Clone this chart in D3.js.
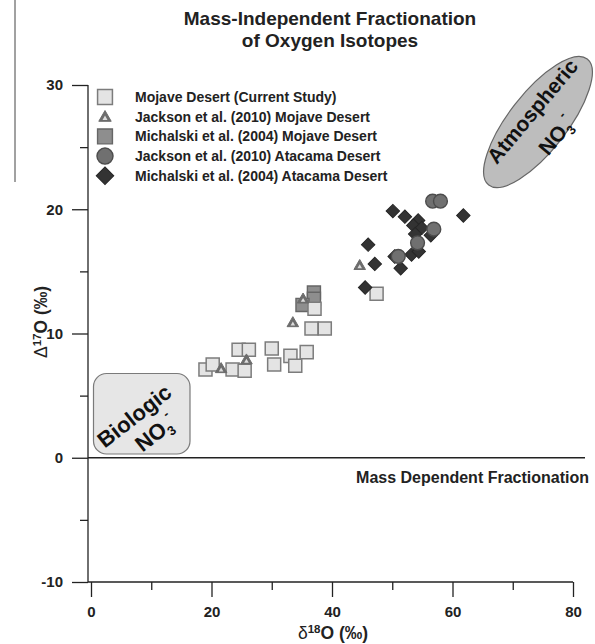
<!DOCTYPE html>
<html><head><meta charset="utf-8">
<script src="https://cdn.jsdelivr.net/npm/d3@7"></script>
<style>
html,body{margin:0;padding:0;background:#fff;}
text{font-family:Arial,"Liberation Sans",sans-serif;}
</style></head>
<body>
<svg id="c" width="595" height="644"></svg>
<script>
// ---- data ----
const seriesNames = [
  "Mojave Desert (Current Study)",
  "Jackson et al. (2010) Mojave Desert",
  "Michalski et al. (2004) Mojave Desert",
  "Jackson et al. (2010) Atacama Desert",
  "Michalski et al. (2004) Atacama Desert"
];
const mojaveCurrent = [
  [19.0,7.1],[20.2,7.5],[23.5,7.1],[25.5,7.0],[24.5,8.7],[26.2,8.7],
  [30.0,8.8],[30.4,7.5],[33.1,8.2],[33.9,7.4],[35.8,8.5],[36.6,10.4],
  [38.8,10.4],[37.1,12.0],[47.4,13.2]
];
const jacksonMojave = [[21.6,7.2],[25.8,7.9],[33.5,10.9],[35.2,12.8],[44.6,15.5]];
const michalskiMojave = [[37.0,13.3],[37.0,12.8],[35.1,12.3]];
const jacksonAtacama = [[56.7,20.65],[58.0,20.65],[56.9,18.4],[54.2,17.3],[51.0,16.2]];
const michalskiAtacama = [
  [46.0,17.15],[47.1,15.6],[45.5,13.7],[50.1,19.85],[52.1,19.4],[54.3,19.1],
  [53.5,18.7],[54.9,18.5],[53.8,18.0],[56.4,17.9],[53.2,16.35],[54.4,16.6],
  [61.8,19.5],[51.4,15.25],[50.4,16.2]
];
const xTicks = [0,20,40,60,80];
const xMinor = [10,30,50,70];
const yTicks = [-10,0,10,20,30];
const yMinor = [-5,5,15,25];

// ---- setup ----
const svg = d3.select("#c");
const x = d3.scaleLinear().domain([0,80]).range([91,573]);
const y = d3.scaleLinear().domain([-10,30]).range([582,85]);
const axX0 = 88;
const fmt = d => String(d);

// stray vertical line at top-left
svg.append("line").attr("x1",15).attr("x2",15).attr("y1",0).attr("y2",182)
  .attr("stroke","#444").attr("stroke-width",1);

// title
svg.append("text").attr("x",330).attr("y",25).attr("text-anchor","middle")
  .attr("font-size",19).attr("font-weight","bold").attr("fill","#222").text("Mass-Independent Fractionation");
svg.append("text").attr("x",330).attr("y",47).attr("text-anchor","middle")
  .attr("font-size",19).attr("font-weight","bold").attr("fill","#222").text("of Oxygen Isotopes");

// axes
const g = svg.append("g").attr("stroke","#222").attr("stroke-width",1.3);
g.append("line").attr("x1",axX0).attr("x2",axX0).attr("y1",y(30)).attr("y2",y(-10));
g.append("line").attr("x1",axX0).attr("x2",x(80)).attr("y1",y(-10)).attr("y2",y(-10));
const yAx = svg.append("g").attr("transform",`translate(${axX0},0)`)
  .call(d3.axisLeft(y).tickValues(yTicks).tickSize(16).tickPadding(9).tickFormat(fmt));
const yAxm = svg.append("g").attr("transform",`translate(${axX0},0)`)
  .call(d3.axisLeft(y).tickValues(yMinor).tickSize(8).tickFormat(""));
const xAx = svg.append("g").attr("transform",`translate(0,${y(-10)})`)
  .call(d3.axisBottom(x).tickValues(xTicks).tickSize(15).tickPadding(9).tickFormat(fmt));
const xAxm = svg.append("g").attr("transform",`translate(0,${y(-10)})`)
  .call(d3.axisBottom(x).tickValues(xMinor).tickSize(8).tickFormat(""));
[yAx,yAxm,xAx,xAxm].forEach(a=>{
  a.select(".domain").remove();
  a.selectAll("line").attr("stroke","#222").attr("stroke-width",1.3);
  a.selectAll("text").attr("font-size",15).attr("font-weight","bold").attr("fill","#222")
    .attr("font-family",'Arial,"Liberation Sans",sans-serif');
});

// axis titles
const xt = svg.append("text").attr("x",333).attr("y",639).attr("text-anchor","middle")
  .attr("font-size",17.5).attr("fill","#222");
xt.append("tspan").text("δ");
xt.append("tspan").attr("font-size",11.5).attr("font-weight","bold").attr("dy",-6).text("18");
xt.append("tspan").attr("font-weight","bold").attr("dy",6).text("O (‰)");
const yt = svg.append("text").attr("transform","translate(47,322) rotate(-90)").attr("text-anchor","middle")
  .attr("font-size",17.5).attr("fill","#222");
yt.append("tspan").text("Δ");
yt.append("tspan").attr("font-size",11.5).attr("font-weight","bold").attr("dy",-6).text("17");
yt.append("tspan").attr("font-weight","bold").attr("dy",6).text("O (‰)");

// zero line
svg.append("line").attr("x1",axX0).attr("x2",585).attr("y1",y(0)).attr("y2",y(0))
  .attr("stroke","#222").attr("stroke-width",1.3);
svg.append("text").attr("x",589).attr("y",y(0)+25).attr("text-anchor","end")
  .attr("font-size",16).attr("font-weight","bold").attr("fill","#222").text("Mass Dependent Fractionation");

// Biologic box
svg.append("rect").attr("x",93.5).attr("y",373.5).attr("width",96.5).attr("height",80.5)
  .attr("rx",13).attr("fill","#e6e6e6").attr("stroke","#7a7a7a").attr("stroke-width",1.2);
svg.append("text").attr("transform","translate(139,422) rotate(-38)").attr("text-anchor","middle")
  .attr("font-size",22).attr("font-weight","bold").attr("fill","#111").text("Biologic");
const bn = svg.append("text").attr("transform","translate(160,439) rotate(-38)").attr("text-anchor","middle")
  .attr("font-size",22).attr("font-weight","bold").attr("fill","#111");
bn.append("tspan").text("NO");
bn.append("tspan").attr("font-size",13).attr("dy",5).text("3");
bn.append("tspan").attr("font-size",13).attr("dy",-17).text("-");

// Atmospheric ellipse
svg.append("ellipse").attr("transform","translate(538,122) rotate(-52)")
  .attr("rx",80).attr("ry",29).attr("fill","#bdbdbd").attr("stroke","#666").attr("stroke-width",1.2);
svg.append("text").attr("transform","translate(538,116) rotate(-50)").attr("text-anchor","middle")
  .attr("font-size",21).attr("font-weight","bold").attr("fill","#111").text("Atmospheric");
const an = svg.append("text").attr("transform","translate(562,140) rotate(-50)").attr("text-anchor","middle")
  .attr("font-size",21).attr("font-weight","bold").attr("fill","#111");
an.append("tspan").text("NO");
an.append("tspan").attr("font-size",13).attr("dy",5).text("3");
an.append("tspan").attr("font-size",13).attr("dy",-17).text("-");

// ---- marks ----
const styles = {
  lightSq:{fill:"#e4e4e4",stroke:"#7c7c7c",sw:1.5},
  tri:{fill:"#6c6c6c",stroke:"#6c6c6c",sw:1, inner:"#dcdcdc"},
  medSq:{fill:"#8e8e8e",stroke:"#666",sw:1.4},
  circ:{fill:"#707070",stroke:"#4c4c4c",sw:1.4},
  dia:{fill:"#333",stroke:"#262626",sw:1}
};
function sym(kind, scale){
  if(kind==="lightSq"||kind==="medSq") return d3.symbol(d3.symbolSquare, 170*scale)();
  if(kind==="tri") return d3.symbol(d3.symbolTriangle, 58*scale)();
  if(kind==="circ") return d3.symbol(d3.symbolCircle, 150*scale)();
  if(kind==="dia") return d3.symbol(d3.symbolSquare, 90*scale)();
}
function draw(data, kind){
  const s = styles[kind];
  const gg = svg.append("g");
  const tf = d=>`translate(${x(d[0])},${y(d[1])})` + (kind==="dia"?" rotate(45)":"") + (kind==="tri"?" translate(0,1)":"");
  gg.selectAll("path.m").data(data).join("path").attr("class","m")
    .attr("d", sym(kind,1)).attr("transform", tf)
    .attr("fill", s.fill).attr("stroke", s.stroke).attr("stroke-width", s.sw);
  if(kind==="tri"){
    gg.selectAll("path.i").data(data).join("path").attr("class","i")
      .attr("d", d3.symbol(d3.symbolTriangle, 9)()).attr("transform", d=>tf(d)+" translate(0,0.8)")
      .attr("fill", s.inner);
  }
}
draw(michalskiMojave,"medSq");
draw(mojaveCurrent,"lightSq");
draw(jacksonMojave,"tri");
draw(michalskiAtacama,"dia");
draw(jacksonAtacama,"circ");

// legend
const legKinds = ["lightSq","tri","medSq","circ","dia"];
const legScale = {lightSq:1.3,tri:1.15,medSq:1.3,circ:1.35,dia:1.7};
legKinds.forEach((k,i)=>{
  const yy = 97 + i*19.7;
  const s = styles[k];
  const tf = `translate(105,${yy})` + (k==="dia"?" rotate(45)":"") + (k==="tri"?" translate(0,1)":"");
  svg.append("path").attr("d", sym(k, legScale[k])).attr("transform", tf)
    .attr("fill", s.fill).attr("stroke", s.stroke).attr("stroke-width", s.sw);
  if(k==="tri") svg.append("path").attr("d", d3.symbol(d3.symbolTriangle, 11)()).attr("transform", tf+" translate(0,0.8)").attr("fill", s.inner);
  svg.append("text").attr("x",135).attr("y",yy+5).attr("font-size",14).attr("font-weight","bold")
    .attr("fill","#222").text(seriesNames[i]);
});
</script>
</body></html>
